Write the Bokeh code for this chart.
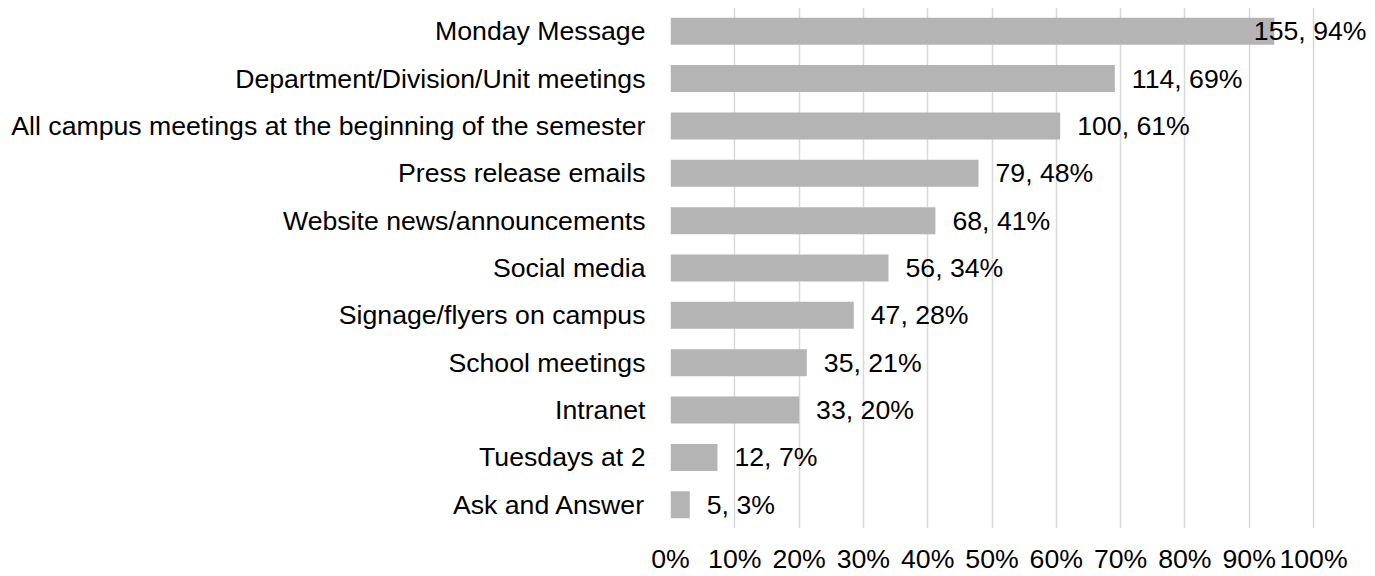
from bokeh.plotting import figure
from bokeh.models import ColumnDataSource, FixedTicker, NumeralTickFormatter, Range1d, FactorRange
from bokeh.core.properties import value
from bokeh.embed import file_html
from bokeh.resources import INLINE

categories = [
    "Monday Message",
    "Department/Division/Unit meetings",
    "All campus meetings at the beginning of the semester",
    "Press release emails",
    "Website news/announcements",
    "Social media",
    "Signage/flyers on campus",
    "School meetings",
    "Intranet",
    "Tuesdays at 2",
    "Ask and Answer",
]
counts = [155, 114, 100, 79, 68, 56, 47, 35, 33, 12, 5]
shares = [93.9, 69.1, 60.6, 47.9, 41.2, 33.9, 28.5, 21.2, 20.0, 7.3, 3.0]  # percent, bar length
label_pcts = [94, 69, 61, 48, 41, 34, 28, 21, 20, 7, 3]
tick_values = [0, 10, 20, 30, 40, 50, 60, 70, 80, 90, 100]

FONT = "Liberation Sans"
FS = "26.67px"
W, H = 1375, 576
LEFT = 670
TOP = 7
BOTTOM = 46
PX_PER_UNIT = 643.0  # pixels for 100%
x_end = (W - LEFT) / PX_PER_UNIT

labels = [f"{c}, {p}%" for c, p in zip(counts, label_pcts)]
fr = [s / 100.0 for s in shares]

p = figure(width=W, height=H, output_backend="svg", toolbar_location=None,
           x_range=Range1d(0, x_end), y_range=FactorRange(factors=categories[::-1]),
           min_border_left=LEFT, min_border_right=0, min_border_top=TOP, min_border_bottom=BOTTOM)
p.title = None
p.outline_line_color = None
p.background_fill_color = "white"
p.border_fill_color = "white"

src = ColumnDataSource(dict(cat=categories, share=fr, label=labels))
p.hbar(y="cat", right="share", left=0, height=0.57, source=src,
       fill_color="#B4B4B4", line_color=None)

# data labels
inside_x, inside_y, inside_t = [], [], []
edge_y, edge_t = [], []
for c, s, t in zip(categories, fr, labels):
    est_w = 0.55 * 26.67 * len(t) / PX_PER_UNIT
    if s + 0.028 + est_w > x_end:
        edge_y.append(c); edge_t.append(t)
    else:
        inside_x.append(s); inside_y.append(c); inside_t.append(t)

p.text(x=inside_x, y=inside_y, text=inside_t, x_offset=17, text_align="left",
       text_baseline="middle", text_font=value(FONT), text_font_size=FS, text_color="#000000")
p.text(x=[x_end] * len(edge_y), y=edge_y, text=edge_t, x_offset=-9, text_align="right",
       text_baseline="middle", text_font=value(FONT), text_font_size=FS, text_color="#000000")

p.xaxis.ticker = FixedTicker(ticks=[v / 100.0 for v in tick_values])
p.xaxis.formatter = NumeralTickFormatter(format="0%")
p.xgrid.ticker = FixedTicker(ticks=[v / 100.0 for v in tick_values])
p.xgrid.grid_line_color = "#D9D9D9"
p.xgrid.grid_line_width = 1.5
p.ygrid.grid_line_color = None

for ax in (p.xaxis, p.yaxis):
    ax.axis_line_color = None
    ax.major_tick_line_color = None
    ax.minor_tick_line_color = None
    ax.major_tick_out = 0
    ax.major_tick_in = 0
    ax.major_label_text_font = FONT
    ax.major_label_text_font_size = FS
    ax.major_label_text_color = "#000000"

p.xaxis.major_label_standoff = 15
p.yaxis.major_label_standoff = 25

open("out.html", "w").write(file_html(p, INLINE))
